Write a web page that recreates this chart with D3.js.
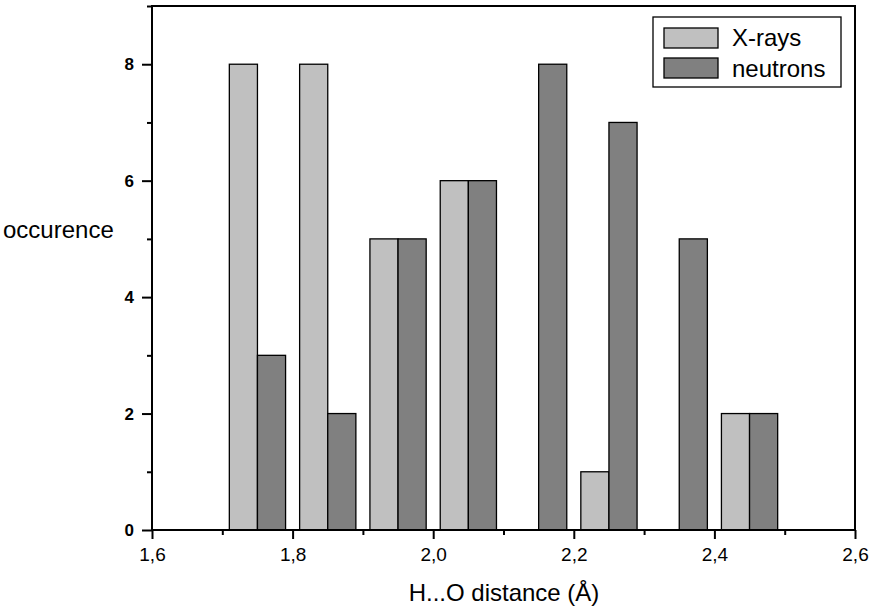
<!DOCTYPE html>
<html><head><meta charset="utf-8">
<script src="https://cdn.jsdelivr.net/npm/d3@7"></script>
<style>body{margin:0;background:#fff}svg{display:block}text{font-family:"Liberation Sans",Arial,sans-serif}</style>
</head><body>
<svg id="c" width="871" height="612"></svg>
<script>
const binCenters = [1.75, 1.85, 1.95, 2.05, 2.15, 2.25, 2.35, 2.45];
const xrays = [8, 8, 5, 6, 0, 1, 0, 2];
const neutrons = [3, 2, 5, 6, 8, 7, 5, 2];
const seriesNames = ["X-rays", "neutrons"];
const xTicks = [1.6, 1.8, 2.0, 2.2, 2.4, 2.6];
const yTicks = [0, 2, 4, 6, 8];

const svg = d3.select("#c");
const L = 152, R = 855, T = 6, B = 530;
const x = d3.scaleLinear().domain([1.6, 2.6]).range([L, R]);
const y = d3.scaleLinear().domain([0, 9]).range([B, T]);
const colors = ["#c0c0c0", "#808080"];
const bw = 0.04;

const g = svg.append("g");
binCenters.forEach((c, i) => {
  [[xrays[i], c - bw, 0], [neutrons[i], c, 1]].forEach(([v, x0, s]) => {
    if (v <= 0) return;
    g.append("rect")
      .attr("x", x(x0)).attr("y", y(v))
      .attr("width", x(x0 + bw) - x(x0)).attr("height", y(0) - y(v))
      .attr("fill", colors[s]).attr("stroke", "#000").attr("stroke-width", 1.3);
  });
});

svg.append("rect").attr("x", L).attr("y", T).attr("width", R - L).attr("height", B - T)
  .attr("fill", "none").attr("stroke", "#000").attr("stroke-width", 2);

const xa = svg.append("g").attr("transform", `translate(0,${B})`)
  .call(d3.axisBottom(x).tickValues(xTicks).tickSize(9).tickPadding(9)
    .tickFormat(d => d3.format(".1f")(d).replace(".", ",")));
const xm = svg.append("g").attr("transform", `translate(0,${B})`)
  .call(d3.axisBottom(x).tickValues(d3.range(1.7, 2.6, 0.2)).tickSize(5).tickFormat(""));
const ya = svg.append("g").attr("transform", `translate(${L},0)`)
  .call(d3.axisLeft(y).tickValues(yTicks).tickSize(10).tickPadding(8));
const ym = svg.append("g").attr("transform", `translate(${L},0)`)
  .call(d3.axisLeft(y).tickValues([1, 3, 5, 7, 9]).tickSize(5).tickFormat(""));
[xa, xm, ya, ym].forEach(a => {
  a.select(".domain").remove();
  a.selectAll("line").attr("stroke", "#000").attr("stroke-width", 2);
});
xa.selectAll("text").attr("font-size", 19).attr("fill", "#000").attr("font-family", "Liberation Sans, Arial, sans-serif");
ya.selectAll("text").attr("font-size", 17).attr("font-weight", "bold").attr("fill", "#000").attr("font-family", "Liberation Sans, Arial, sans-serif");

svg.append("text").attr("x", 504).attr("y", 601).attr("text-anchor", "middle")
  .attr("font-size", 24).text("H...O distance (Å)");
svg.append("text").attr("x", 3).attr("y", 238).attr("font-size", 24).text("occurence");

const lg = svg.append("g");
lg.append("rect").attr("x", 653).attr("y", 17).attr("width", 188).attr("height", 70)
  .attr("fill", "#fff").attr("stroke", "#000").attr("stroke-width", 1.3);
seriesNames.forEach((n, i) => {
  lg.append("rect").attr("x", 664).attr("y", 28 + i * 30).attr("width", 54).attr("height", 20)
    .attr("fill", colors[i]).attr("stroke", "#000").attr("stroke-width", 1.3);
  lg.append("text").attr("x", 732).attr("y", 46 + i * 30.5).attr("font-size", 24).text(n);
});
</script>
</body></html>
